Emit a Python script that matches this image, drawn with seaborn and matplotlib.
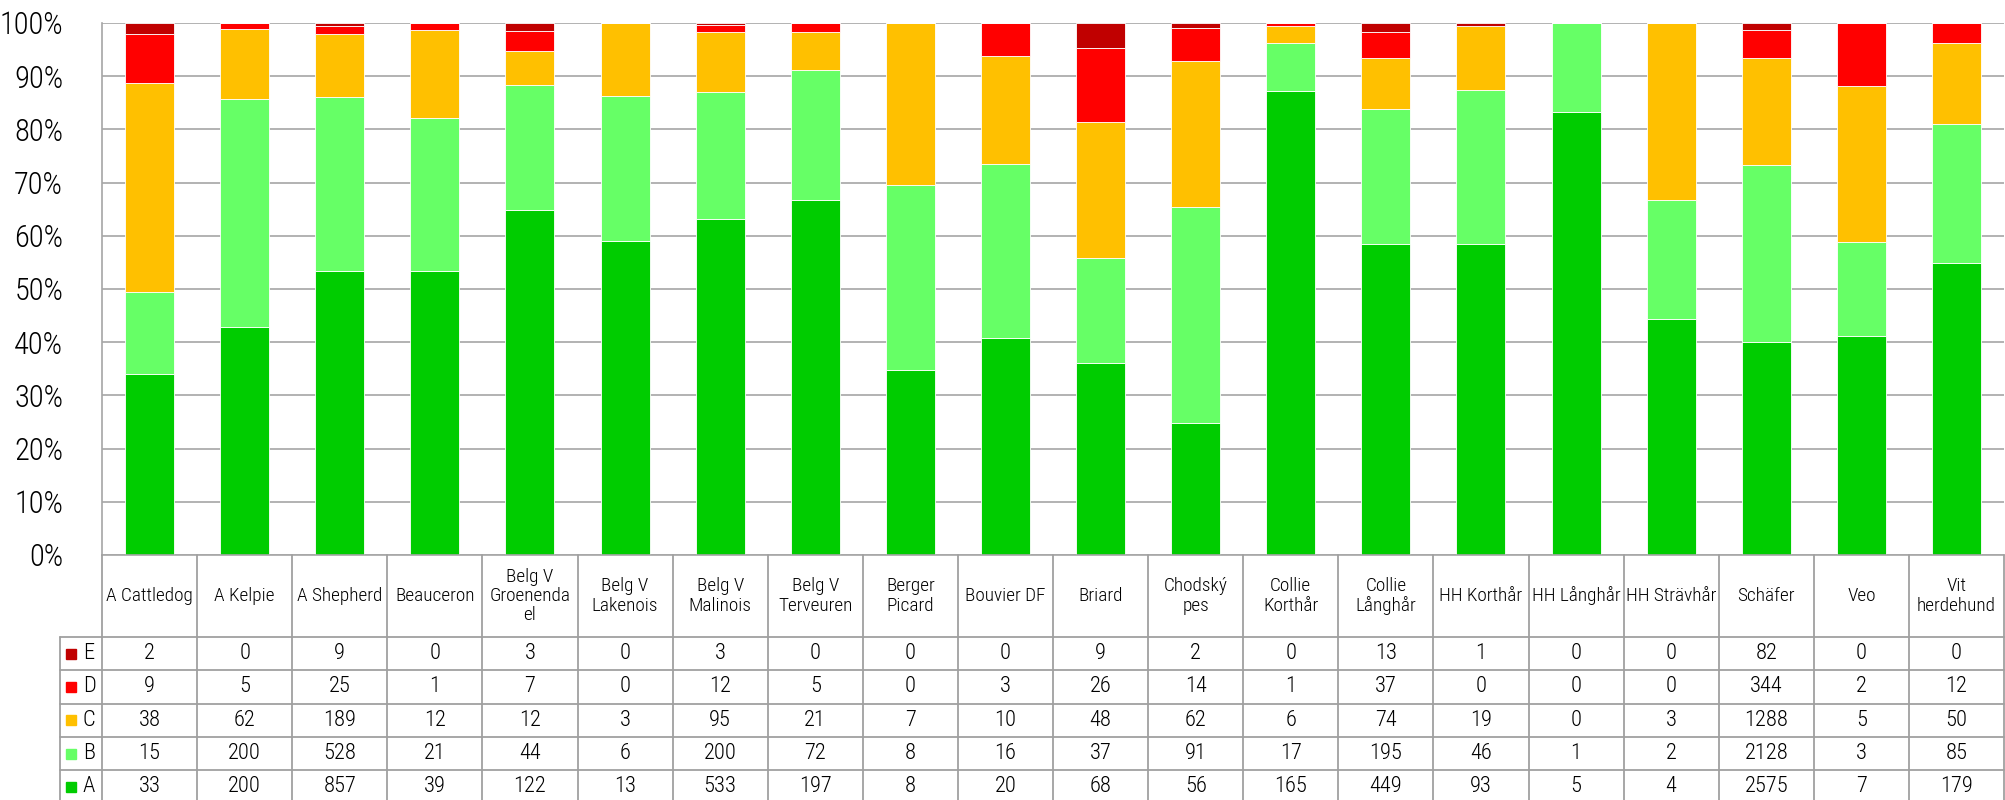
import matplotlib
matplotlib.use("Agg")
import matplotlib.pyplot as plt
from matplotlib import font_manager as fm
import seaborn as sns
import pandas as pd
import numpy as np

breeds = ["A Cattledog", "A Kelpie", "A Shepherd", "Beauceron", "Belg V\nGroenenda\nel",
          "Belg V\nLakenois", "Belg V\nMalinois", "Belg V\nTerveuren", "Berger\nPicard",
          "Bouvier DF", "Briard", "Chodský\npes", "Collie\nKorthår", "Collie\nLånghår",
          "HH Korthår", "HH Långhår", "HH Strävhår", "Schäfer", "Veo", "Vit\nherdehund"]
grade_A = [33, 200, 857, 39, 122, 13, 533, 197, 8, 20, 68, 56, 165, 449, 93, 5, 4, 2575, 7, 179]
grade_B = [15, 200, 528, 21, 44, 6, 200, 72, 8, 16, 37, 91, 17, 195, 46, 1, 2, 2128, 3, 85]
grade_C = [38, 62, 189, 12, 12, 3, 95, 21, 7, 10, 48, 62, 6, 74, 19, 0, 3, 1288, 5, 50]
grade_D = [9, 5, 25, 1, 7, 0, 12, 5, 0, 3, 26, 14, 1, 37, 0, 0, 0, 344, 2, 12]
grade_E = [2, 0, 9, 0, 3, 0, 3, 0, 0, 0, 9, 2, 0, 13, 1, 0, 0, 82, 0, 0]
grades = ["E", "D", "C", "B", "A"]
colors = {"A": "#00CC00", "B": "#66FF66", "C": "#FFC000", "D": "#FF0000", "E": "#C00000"}

series = {"A": grade_A, "B": grade_B, "C": grade_C, "D": grade_D, "E": grade_E}
rows = []
for g in grades:
    for i, v in enumerate(series[g]):
        rows.append({"pos": i, "grade": g, "count": v})
df = pd.DataFrame(rows)

sns.set_theme(style="white")

# choose a narrow font if one is installed
fonts = fm.fontManager.ttflist
names = {f.name for f in fonts}
family, stretch = "DejaVu Sans", "normal"
for cand in ["Liberation Sans Narrow", "Roboto Condensed", "Open Sans Condensed",
             "Fira Sans Condensed", "PT Sans Narrow", "Archivo Narrow", "IBM Plex Sans Condensed",
             "Barlow Condensed", "Ubuntu Condensed", "Arial Narrow", "Nimbus Sans Narrow"]:
    if cand in names:
        family = cand
        break
else:
    for fam in ["DejaVu Sans", "Roboto", "Open Sans", "Noto Sans", "Lato", "Liberation Sans"]:
        if any(f.name == fam and str(f.stretch) in ("condensed", "semi-condensed")
               and f.style == "normal" for f in fonts):
            family, stretch = fam, "condensed"
            break
weight = "normal"
if any(f.name == family and f.weight in (300, "light") and f.style == "normal" for f in fonts):
    weight = "light"
plt.rcParams["font.family"] = [family, "DejaVu Sans"]
plt.rcParams["font.stretch"] = stretch
plt.rcParams["font.weight"] = weight

W, H = 2005, 800
fig = plt.figure(figsize=(W / 100, H / 100), dpi=100)
renderer = fig.canvas.get_renderer()


def text_width(s, size):
    t = fig.text(0, 0, s, fontsize=size)
    w = t.get_window_extent(renderer).width
    t.remove()
    return w


tick_fs = 21 * 64 / text_width("100%", 21)
cell_fs = 15 * 44 / text_width("2575", 15)
hdr_fs = min(15 * 90 / text_width("A Cattledog", 15), 15 * 91 / text_width("HH Strävhår", 15))

ax = fig.add_axes([102 / W, (H - 555) / H, 1902 / W, (555 - 23) / H])

sns.histplot(data=df, x="pos", weights="count", hue="grade", hue_order=grades,
             multiple="fill", discrete=True, shrink=0.515, palette=colors,
             alpha=1, edgecolor="#FFFFFF", linewidth=0.6, legend=False, ax=ax)

grid_c = "#A6A6A6"
ax.set_xlim(-0.5, len(breeds) - 0.5)
ax.set_ylim(0, 1)
ticks = np.arange(0, 1.01, 0.1)
ax.set_yticks(ticks)
ax.set_yticklabels([f"{int(round(t * 100))}%" for t in ticks], fontsize=tick_fs, color="#000000")
ax.tick_params(axis="y", length=0, pad=28)
ax.set_xticks([])
ax.set_xlabel("")
ax.set_ylabel("")
ax.yaxis.grid(True, color=grid_c, linewidth=1.2)
ax.set_axisbelow(True)
for s in ["top", "right"]:
    ax.spines[s].set_visible(False)
for s in ["left", "bottom"]:
    ax.spines[s].set_color(grid_c)
    ax.spines[s].set_linewidth(1.2)

# data table
tax = fig.add_axes([102 / W, 0, 1902 / W, 245 / H])
n = len(breeds)
tax.set_xlim(-0.5, n - 0.5)
tax.set_ylim(245, 0)
tax.axis("off")
line_c = "#A0A0A0"
hdr = 82
rh = 33.3
left = -0.5 - 42 / 95.1
for k in range(n + 1):
    tax.plot([k - 0.5, k - 0.5], [0, 250], color=line_c, lw=1.3, clip_on=False)
tax.plot([left, left], [hdr, 250], color=line_c, lw=1.3, clip_on=False)
for i in range(6):
    y = hdr + rh * i
    tax.plot([left, n - 0.5], [y, y], color=line_c, lw=1.3, clip_on=False)

for i, b in enumerate(breeds):
    tax.text(i, hdr / 2, b, ha="center", va="center", fontsize=hdr_fs,
             linespacing=1.1, color="#000000")

for r, g in enumerate(grades):
    yc = hdr + rh * r + rh / 2
    tax.plot([left + 0.115], [yc], marker="s", markersize=7.5, color=colors[g],
             linestyle="none", clip_on=False)
    tax.text(left + 0.24, yc, g, ha="left", va="center", fontsize=cell_fs, color="#000000",
             clip_on=False)
    for i, v in enumerate(series[g]):
        tax.text(i, yc, str(v), ha="center", va="center", fontsize=cell_fs, color="#000000")

fig.savefig("out.png", dpi=100)
